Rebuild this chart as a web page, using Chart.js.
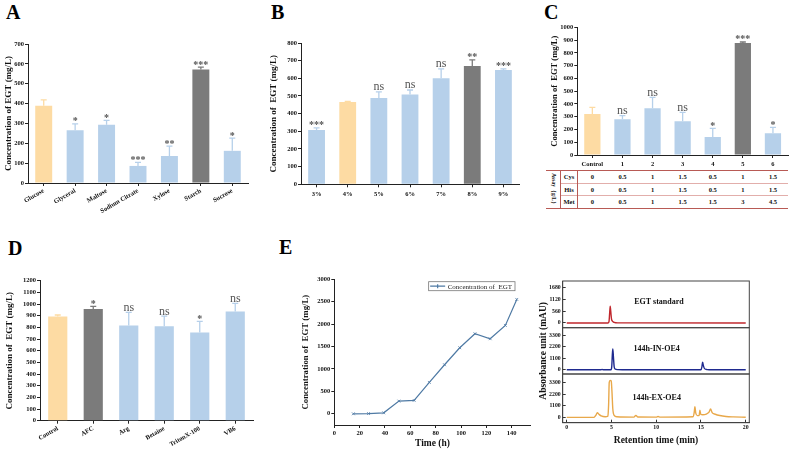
<!DOCTYPE html>
<html>
<head>
<meta charset="utf-8">
<title>EGT production</title>
<script src="https://cdn.jsdelivr.net/npm/chart.js@4.4.1/dist/chart.umd.min.js"></script>
<style>
html, body { margin: 0; padding: 0; background: #fff; }
#page { position: relative; width: 791px; height: 454px; overflow: hidden; background: #fff; }
canvas { position: absolute; }
.letter { position: absolute; font: bold 20px 'Liberation Serif', serif; line-height: 1; color: #000; }
.cell { position: absolute; font: bold 6.5px 'Liberation Serif', serif; color: #111; line-height: 1;
  transform: translate(-50%, -50%); white-space: nowrap; }
.assay { position: absolute; font: bold 5.5px 'Liberation Serif', serif; color: #111; line-height: 1;
  white-space: nowrap; transform: translate(-50%, -50%) rotate(90deg); }
.rule { position: absolute; background: #b85a55; }
.rule.light { background: #e2aeab; }
</style>
</head>
<body>
<div id="page">
  <div class="letter" style="left:6px;top:2px">A</div>
  <div class="letter" style="left:271px;top:2px">B</div>
  <div class="letter" style="left:544px;top:2px">C</div>
  <div class="letter" style="left:8px;top:238px">D</div>
  <div class="letter" style="left:279px;top:237px">E</div>

  <canvas id="chartA" width="256" height="185" style="left:0;top:30px"></canvas>
  <canvas id="chartB" width="260" height="185" style="left:262px;top:30px"></canvas>
  <canvas id="chartC" width="251" height="160" style="left:540px;top:10px"></canvas>
  <canvas id="chartD" width="258" height="189" style="left:0;top:265px"></canvas>
  <canvas id="chartE" width="250" height="189" style="left:290px;top:265px"></canvas>
  <canvas id="hplcStd" width="255" height="184" style="left:536px;top:270px"></canvas>
  <canvas id="hplcIn" width="255" height="184" style="left:536px;top:270px"></canvas>
  <canvas id="hplcEx" width="255" height="184" style="left:536px;top:270px"></canvas>

  <div id="doseTable"></div>
</div>
<script>
// A: carbon sources
const carbonLabels = ['Glucose', 'Glyceral', 'Maltose', 'Sodium Citrate', 'Xylose', 'Starch', 'Sucrose'];
const carbonEGT = [389, 266, 293, 86, 136, 571, 162];
const carbonSD = [30, 32, 22, 18, 50, 13, 64];
const carbonSig = ['', '*', '*', '***', '**', '***', '*'];

// B: starch concentration
const starchLabels = ['3%', '4%', '5%', '6%', '7%', '8%', '9%'];
const starchEGT = [307, 466, 489, 508, 600, 670, 647];
const starchSD = [12, 3, 34, 26, 53, 34, 6];
const starchSig = ['***', '', 'ns', 'ns', 'ns', '**', '***'];

// C: precursor amino acids
const aaLabels = ['Control', '1', '2', '3', '4', '5', '6'];
const aaEGT = [321, 279, 366, 264, 141, 877, 170];
const aaSD = [52, 29, 86, 70, 68, 8, 47];
const aaSig = ['', 'ns', 'ns', 'ns', '*', '***', '*'];
const cysDose = ['0', '0.5', '1', '1.5', '0.5', '1', '1.5'];
const hisDose = ['0', '0.5', '1', '1.5', '0.5', '1', '1.5'];
const metDose = ['0', '0.5', '1', '1.5', '1.5', '3', '4.5'];

// D: additives
const addLabels = ['Control', 'AFC', 'Arg', 'Betaine', 'TritonX-100', 'VB6'];
const addEGT = [894, 957, 817, 809, 757, 937];
const addSD = [12, 23, 112, 88, 94, 69];
const addSig = ['', '*', 'ns', 'ns', '*', 'ns'];

// E: time course
const timeH = [15, 27, 39, 51, 63, 75, 87, 99, 111, 123, 135, 144];
const egtMgL = [0, 5, 22, 283, 298, 700, 1094, 1473, 1786, 1674, 1972, 2552];
const timeTicks = [0, 20, 40, 60, 80, 100, 120, 140];
const concTicks = [0, 500, 1000, 1500, 2000, 2500, 3000];

// E: HPLC traces, [retention time (min), mAU]
const stdTrace = [[0, 0], [4.6, 0], [4.72, 60], [4.8, 500], [4.86, 800], [4.92, 550], [5.0, 200], [5.1, 90],
  [5.3, 30], [5.7, 5], [20, 0]];
const inTrace = [[0, 0], [3.8, 0], [3.95, 25], [4.1, 0], [4.95, 0], [5.03, 300], [5.1, 1500], [5.15, 1980],
  [5.22, 1200], [5.3, 300], [5.4, 80], [5.7, 15], [6.2, 0], [15.0, 0], [15.1, 250], [15.18, 725], [15.27, 400],
  [15.4, 110], [15.7, 20], [16.2, 0], [20, 0]];
const exTrace = [[0, 0], [3.05, 0], [3.25, 200], [3.42, 440], [3.6, 300], [3.85, 140], [4.3, 60], [4.6, 120],
  [4.68, 1200], [4.75, 3300], [4.85, 3500], [4.97, 3450], [5.05, 2500], [5.15, 800], [5.3, 200], [5.6, 60],
  [7.5, 30], [7.73, 190], [7.95, 40], [10.0, 30], [10.2, 80], [10.45, 30], [14.1, 60], [14.25, 500],
  [14.32, 1015], [14.42, 400], [14.6, 170], [14.8, 200], [14.88, 670], [14.98, 280], [15.2, 250], [15.6, 320],
  [15.9, 500], [16.07, 795], [16.25, 450], [16.6, 300], [17.1, 180], [17.8, 90], [18.6, 50], [20, 20]];
const rtTicks = [0, 5, 10, 15, 20];
const stdTicks = [0, 560, 1120, 1680];
const sampleTicks = [0, 1100, 2200, 3300];

Chart.defaults.font.family = "'Liberation Serif', 'Times New Roman', serif";
Chart.defaults.color = '#111';
Chart.defaults.animation = false;

const ORANGE = '#fddba3';
const BLUE = '#b6d0ea';
const GRAY = '#7b7b7b';
const AXIS = '#222';
const tickFont = { size: 6.5, weight: 'bold' };

function barColors(n, ref, best) {
  return Array.from({ length: n }, (_, i) => i === ref ? ORANGE : i === best ? GRAY : BLUE);
}
function fixedTicks(values) {
  return s => { s.ticks = values.map(v => ({ value: v })); };
}

// error bars (upper half) + significance marks
const errorBars = {
  id: 'errorBars',
  afterDatasetsDraw(chart) {
    const ds = chart.data.datasets[0];
    const meta = chart.getDatasetMeta(0);
    const y = chart.scales.y;
    const ctx = chart.ctx;
    ctx.save();
    ctx.textAlign = 'center';
    ctx.textBaseline = 'alphabetic';
    meta.data.forEach((bar, i) => {
      const top = y.getPixelForValue(ds.data[i] + ds.errors[i]);
      ctx.strokeStyle = ds.backgroundColor[i];
      ctx.lineWidth = 1.3;
      ctx.beginPath();
      ctx.moveTo(bar.x, bar.y);
      ctx.lineTo(bar.x, top);
      ctx.moveTo(bar.x - 3, top);
      ctx.lineTo(bar.x + 3, top);
      ctx.stroke();
      const s = ds.sig[i];
      if (!s) return;
      ctx.fillStyle = '#555';
      if (s === 'ns') {
        ctx.font = "12px 'Liberation Serif'";
        ctx.fillText(s, bar.x, top - 1.5);
      } else {
        ctx.font = "bold 10px 'Liberation Serif'";
        ctx.fillText(s, bar.x, top + 0.5);
      }
    });
    ctx.restore();
  }
};

function barPanel(id, geo, labels, values, sd, sig, colors, yMax) {
  return new Chart(document.getElementById(id), {
    type: 'bar',
    data: {
      labels: labels,
      datasets: [{
        data: values, errors: sd, sig: sig,
        backgroundColor: colors,
        barPercentage: 0.54, categoryPercentage: 1
      }]
    },
    options: {
      responsive: false,
      layout: { padding: geo.pad },
      plugins: { legend: { display: false }, tooltip: { enabled: false } },
      scales: {
        x: {
          grid: { drawOnChartArea: false, offset: false, tickLength: 3, color: AXIS },
          border: { color: AXIS },
          ticks: { font: tickFont, color: '#111', autoSkip: false,
            minRotation: geo.rot, maxRotation: geo.rot, padding: geo.xPad },
          afterFit: s => { s.height = geo.xH; }
        },
        y: {
          min: 0, max: yMax,
          grid: { drawOnChartArea: false, tickLength: 3, color: AXIS },
          border: { color: AXIS },
          ticks: { stepSize: 100, font: tickFont, color: '#111', padding: 1, format: { useGrouping: false } },
          title: { display: true, text: geo.title, color: '#111',
            font: { size: geo.titleSize, weight: 'bold' }, padding: { top: geo.titlePad, bottom: 0 } },
          afterFit: s => { s.width = geo.yW; }
        }
      }
    },
    plugins: [errorBars]
  });
}

barPanel('chartA', { pad: { left: 0, top: 14, right: 8, bottom: 0 }, yW: 28, xH: 32, rot: 30, xPad: 1,
  title: 'Concentration of EGT (mg/L)', titleSize: 9, titlePad: 3 },
  carbonLabels, carbonEGT, carbonSD, carbonSig, barColors(7, 0, 5), 700);

barPanel('chartB', { pad: { left: 0, top: 13, right: 3, bottom: 0 }, yW: 39, xH: 30.7, rot: 0, xPad: 3,
  title: 'Concentration of  EGT (mg/L)', titleSize: 9, titlePad: 6 },
  starchLabels, starchEGT, starchSD, starchSig, barColors(7, 1, 5), 800);

const chartC = barPanel('chartC', { pad: { left: 0, top: 17.3, right: 3, bottom: 0 }, yW: 37.3, xH: 15, rot: 0, xPad: 2,
  title: 'Concentration of  EGT (mg/L)', titleSize: 8.5, titlePad: 9.6 },
  aaLabels, aaEGT, aaSD, aaSig, barColors(7, 0, 5), 1000);

barPanel('chartD', { pad: { left: 0, top: 15.7, right: 5, bottom: 0 }, yW: 40, xH: 33.3, rot: 30, xPad: 1,
  title: 'Concentration of  EGT (mg/L)', titleSize: 9, titlePad: 4.6 },
  addLabels, addEGT, addSD, addSig, barColors(6, 0, 1), 1200);

// dose table under C, columns follow the bar positions of C
(function buildDoseTable() {
  const box = document.getElementById('doseTable');
  const offX = 540;
  const area = chartC.chartArea;
  const left = 546, right = offX + area.right, split1 = 560.7, split2 = offX + area.left;
  const rowLines = [170.7, 183.3, 195.7, 208.3];
  const add = (cls, x, y, w, h, html) => {
    const d = document.createElement('div');
    d.className = cls;
    d.style.left = x + 'px';
    d.style.top = y + 'px';
    if (w != null) { d.style.width = w + 'px'; d.style.height = h + 'px'; }
    if (html != null) d.textContent = html;
    box.appendChild(d);
  };
  add('rule', left, rowLines[0] - 0.5, right - left, 1);
  add('rule light', split1, rowLines[1] - 0.5, right - split1, 1);
  add('rule light', split1, rowLines[2] - 0.5, right - split1, 1);
  add('rule', left, rowLines[3] - 0.5, right - left, 1);
  add('rule', split1 - 0.5, rowLines[0], 1, rowLines[3] - rowLines[0]);
  add('rule', split2 - 0.5, rowLines[0], 1, rowLines[3] - rowLines[0]);
  add('assay', (left + split1) / 2, (rowLines[0] + rowLines[3]) / 2, null, null, 'Assay（g/L）');
  [['Cys', cysDose], ['His', hisDose], ['Met', metDose]].forEach(([name, doses], r) => {
    const cy = (rowLines[r] + rowLines[r + 1]) / 2;
    add('cell', (split1 + split2) / 2, cy, null, null, name);
    doses.forEach((d, i) => add('cell', offX + chartC.scales.x.getPixelForTick(i), cy, null, null, d));
  });
})();

// E left: time course with boxed legend
const boxedLegend = {
  id: 'boxedLegend',
  afterDraw(chart, args, opts) {
    const ds = chart.data.datasets[0];
    const { ctx, chartArea } = chart;
    ctx.save();
    ctx.font = "7px 'Liberation Serif'";
    const w = 19 + ctx.measureText(ds.label).width + 3;
    const h = 9;
    const x = chartArea.right - opts.right - w;
    const y = chartArea.top + opts.top;
    ctx.strokeStyle = '#777';
    ctx.lineWidth = 0.8;
    ctx.strokeRect(x, y, w, h);
    ctx.strokeStyle = ds.borderColor;
    ctx.lineWidth = 1.2;
    ctx.beginPath();
    ctx.moveTo(x + 1.5, y + h / 2);
    ctx.lineTo(x + 16.5, y + h / 2);
    ctx.moveTo(x + 9, y + h / 2 - 2);
    ctx.lineTo(x + 9, y + h / 2 + 2);
    ctx.stroke();
    ctx.fillStyle = '#222';
    ctx.textBaseline = 'middle';
    ctx.fillText(ds.label, x + 19, y + h / 2 + 0.5);
    ctx.restore();
  }
};

new Chart(document.getElementById('chartE'), {
  type: 'line',
  data: {
    datasets: [{
      label: 'Concentration of  EGT',
      data: timeH.map((t, i) => ({ x: t, y: egtMgL[i] })),
      borderColor: '#4f7aa4', borderWidth: 1.2,
      pointStyle: 'crossRot', pointRadius: 2, pointBorderColor: '#4f7aa4', pointBorderWidth: 0.8
    }]
  },
  options: {
    responsive: false,
    layout: { padding: { left: 0, top: 14.3, right: 9.3, bottom: 0 } },
    plugins: { legend: { display: false }, tooltip: { enabled: false }, boxedLegend: { right: 15.7, top: 2.4 } },
    scales: {
      x: {
        type: 'linear', min: 0, max: 155,
        grid: { drawOnChartArea: false, tickLength: 3, color: AXIS },
        border: { color: AXIS },
        ticks: { font: tickFont, color: '#111', padding: 1 },
        afterBuildTicks: fixedTicks(timeTicks),
        title: { display: true, text: 'Time (h)', color: '#111', font: { size: 9.5, weight: 'bold' },
          padding: { top: 0, bottom: 5 } },
        afterFit: s => { s.height = 29; }
      },
      y: {
        min: -250, max: 3000,
        grid: { drawOnChartArea: false, tickLength: 3, color: AXIS },
        border: { color: AXIS },
        ticks: { font: tickFont, color: '#111', padding: 1, format: { useGrouping: false } },
        afterBuildTicks: fixedTicks(concTicks),
        title: { display: true, text: 'Concentration of  EGT (mg/L)', color: '#111',
          font: { size: 8.8, weight: 'bold' }, padding: { top: 10.5, bottom: 0 } },
        afterFit: s => { s.width = 44.3; }
      }
    }
  },
  plugins: [boxedLegend]
});

// E right: stacked chromatograms
const frame = {
  id: 'frame',
  afterDraw(chart) {
    const { ctx, chartArea: a } = chart;
    ctx.save();
    ctx.strokeStyle = '#444';
    ctx.lineWidth = 1;
    ctx.strokeRect(a.left, a.top, a.right - a.left, a.bottom - a.top);
    ctx.restore();
  }
};

const note = {
  id: 'note',
  afterDraw(chart, args, opts) {
    const { ctx, chartArea: a } = chart;
    ctx.save();
    ctx.font = "bold 8px 'Liberation Serif'";
    ctx.fillStyle = '#111';
    ctx.textAlign = 'center';
    ctx.textBaseline = 'middle';
    ctx.fillText(opts.text, a.left + (a.right - a.left) * opts.fx, a.top + (a.bottom - a.top) * opts.fy);
    ctx.restore();
  }
};

const hplcTickFont = { size: 5.8, weight: 'bold' };

function hplc(id, trace, color, yMin, yMax, yTicks, geo, label) {
  return new Chart(document.getElementById(id), {
    type: 'line',
    data: {
      datasets: [{
        data: trace.map(([x, y]) => ({ x, y })),
        borderColor: color, borderWidth: 1.4, pointRadius: 0,
        cubicInterpolationMode: 'monotone'
      }]
    },
    options: {
      responsive: false,
      layout: { padding: geo.pad },
      plugins: { legend: { display: false }, tooltip: { enabled: false }, note: label },
      scales: {
        x: {
          type: 'linear', min: -0.45, max: 20.4, display: geo.showX,
          grid: { drawOnChartArea: false, tickLength: -3, color: '#333' },
          border: { color: '#444' },
          ticks: { font: hplcTickFont, color: '#111', padding: 4 },
          afterBuildTicks: fixedTicks(rtTicks),
          title: { display: geo.showX, text: 'Retention time (min)', color: '#111',
            font: { size: 9.5, weight: 'bold' }, padding: { top: 0, bottom: 8 } },
          afterFit: s => { s.height = geo.xH; }
        },
        y: {
          min: yMin, max: yMax,
          grid: { drawOnChartArea: false, tickLength: -3, color: '#333' },
          border: { color: '#444' },
          ticks: { font: hplcTickFont, color: '#111', padding: 5, format: { useGrouping: false } },
          afterBuildTicks: fixedTicks(yTicks),
          title: { display: !!geo.yTitle, text: 'Absorbance unit (mAU)', color: '#111',
            font: { size: 9.5, weight: 'bold' }, padding: { top: 2.3, bottom: 0 } },
          afterFit: s => { s.width = 26.7; }
        }
      }
    },
    plugins: [frame, note]
  });
}

hplc('hplcStd', stdTrace, '#c0272d', -225, 2000, stdTicks,
  { pad: { left: 0, top: 11, right: 41.7, bottom: 126.3 }, showX: false, xH: 0 },
  { text: 'EGT standard', fx: 0.516, fy: 0.45 });
hplc('hplcIn', inTrace, '#1f2a8f', -400, 4000, sampleTicks,
  { pad: { left: 0, top: 57.7, right: 41.7, bottom: 80 }, showX: false, xH: 0, yTitle: true },
  { text: '144h-IN-OE4', fx: 0.5035, fy: 0.46 });
hplc('hplcEx', exTrace, '#e8a84a', -500, 4100, sampleTicks,
  { pad: { left: 0, top: 104, right: 41.7, bottom: 0 }, showX: true, xH: 31.3 },
  { text: '144h-EX-OE4', fx: 0.5035, fy: 0.487 });
</script>
</body>
</html>
